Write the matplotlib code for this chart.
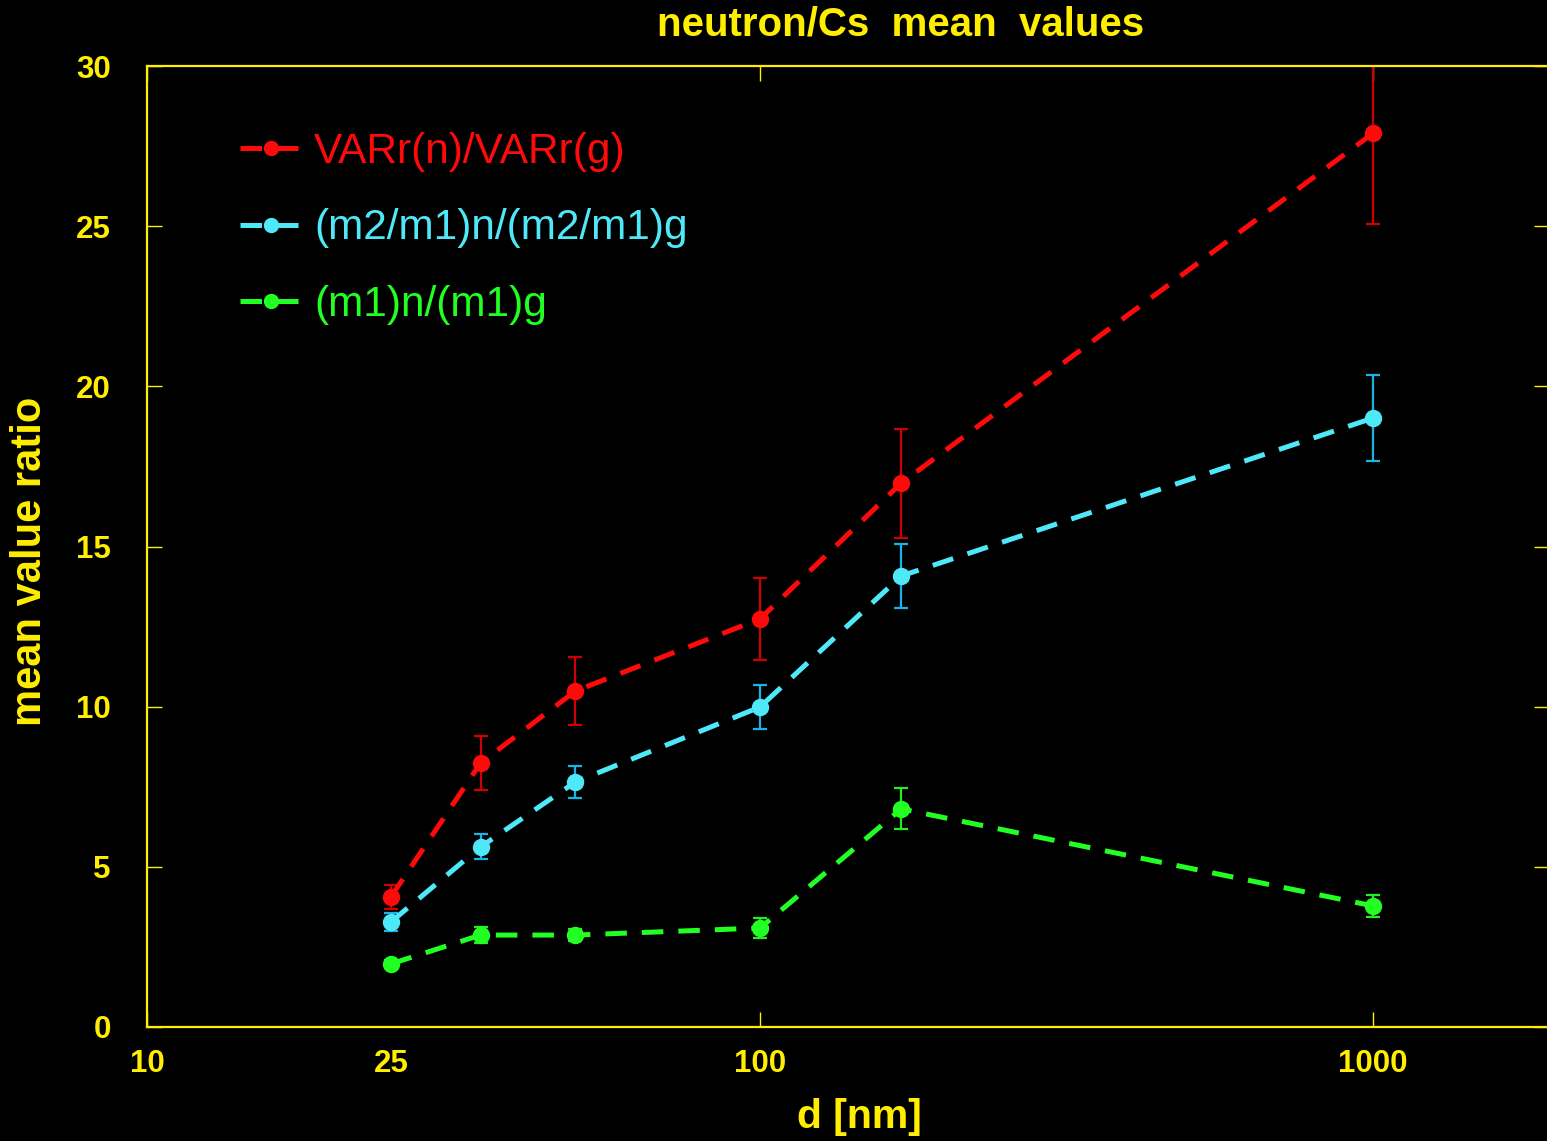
import matplotlib
matplotlib.use("Agg")
import matplotlib.pyplot as plt

plt.rcParams["font.family"] = ["Liberation Sans", "DejaVu Sans"]

YELLOW = "#ffee00"

d_nm = [25, 35, 50, 100, 170, 1000]

var_ratio = [4.06, 8.24, 10.49, 12.74, 16.98, 27.9]
var_err = [0.37, 0.84, 1.06, 1.28, 1.70, 2.83]

m2m1_ratio = [3.28, 5.62, 7.65, 9.99, 14.08, 19.01]
m2m1_err = [0.28, 0.39, 0.51, 0.70, 1.00, 1.35]

m1_ratio = [1.97, 2.87, 2.87, 3.09, 6.81, 3.78]
m1_err = [0.12, 0.25, 0.20, 0.30, 0.64, 0.35]

series = [
    ("VARr(n)/VARr(g)", var_ratio, var_err, "#ff0a0a", "#d00000"),
    ("(m2/m1)n/(m2/m1)g", m2m1_ratio, m2m1_err, "#4ee8f8", "#18b4e8"),
    ("(m1)n/(m1)g", m1_ratio, m1_err, "#22ff22", "#22ee22"),
]

x_ticks = [10, 25, 100, 1000]
y_ticks = [0, 5, 10, 15, 20, 25, 30]

W, H = 1547, 1141
fig = plt.figure(figsize=(W / 100, H / 100), dpi=100, facecolor="black")
ax = fig.add_axes([147 / W, 1 - 1027 / H, (1549 - 147) / W, (1027 - 66) / H])
ax.set_facecolor("black")

for label, y, err, color, ecolor in series:
    ax.errorbar(d_nm, y, yerr=err, fmt="none", ecolor=ecolor,
                elinewidth=1.6, capsize=5, capthick=1.6, zorder=2)
    line, = ax.plot(d_nm, y, color=color, lw=3.6, marker="o",
                    markersize=11.5, label=label, zorder=3,
                    dash_capstyle="butt")
    line.set_dashes([4.3, 3.0])

ax.set_xscale("log")
ax.set_xlim(10, 10 ** (1 + (1549 - 147) / 613))
ax.set_ylim(0, 30)

ax.set_xticks(x_ticks)
ax.set_xticklabels([str(t) for t in x_ticks])
ax.xaxis.set_minor_locator(matplotlib.ticker.NullLocator())
ax.set_yticks(y_ticks)

ax.tick_params(axis="both", which="major", direction="in", length=11,
               width=1, color=YELLOW, labelcolor=YELLOW, labelsize=22.5,
               top=True, right=True)
ax.tick_params(axis="x", pad=16)
ax.tick_params(axis="y", pad=26)
# no tick mark at 25, only the label
ax.xaxis.get_major_ticks()[1].tick1line.set_visible(False)
ax.xaxis.get_major_ticks()[1].tick2line.set_visible(False)
for lbl in ax.get_xticklabels() + ax.get_yticklabels():
    lbl.set_fontweight("bold")

for sp in ax.spines.values():
    sp.set_color(YELLOW)
    sp.set_linewidth(1.6)

fig.text(901 / W, 1 - 25 / H, "neutron/Cs  mean  values", color=YELLOW,
         fontsize=29, fontweight="bold", ha="center", va="center")
fig.text(859 / W, 1 - 1117 / H, "d [nm]", color=YELLOW,
         fontsize=29.5, fontweight="bold", ha="center", va="center")
fig.text(30 / W, 1 - 561 / H, "mean value ratio", color=YELLOW,
         fontsize=30, fontweight="bold", ha="center", va="center",
         rotation=90)

leg = ax.legend(loc="upper left", bbox_to_anchor=(240 / W, 1 - 132 / H),
                bbox_transform=fig.transFigure, frameon=False, fontsize=30.5,
                handlelength=1.45, handletextpad=0.3, labelspacing=0.86,
                borderpad=0, borderaxespad=0, numpoints=1,
                labelcolor="linecolor")
for h in leg.legend_handles:
    h.set_markersize(10)
    h.set_linewidth(3.6)

fig.savefig("out.png", dpi=100, facecolor="black")
